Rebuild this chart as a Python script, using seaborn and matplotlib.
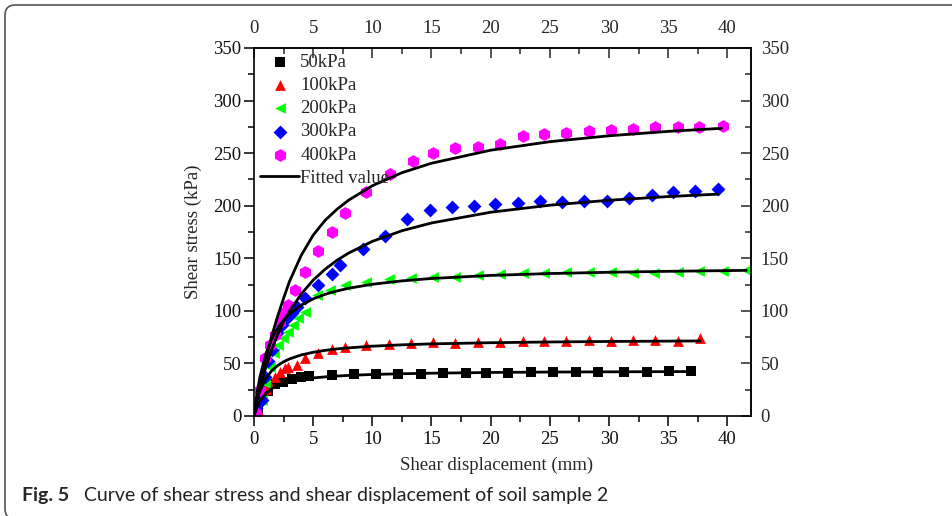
import matplotlib
matplotlib.use("Agg")
import matplotlib.pyplot as plt
from matplotlib.patches import FancyBboxPatch
from matplotlib.ticker import MultipleLocator
import seaborn as sns

sns.set_style("ticks")
plt.rcParams["font.family"] = ["Liberation Serif", "DejaVu Serif"]

# measured points (shear displacement mm, shear stress kPa)
x50 = [0.3, 0.7, 1.2, 1.77, 2.47, 3.18, 3.94, 4.67, 6.56, 8.44, 10.3, 12.2, 14.1,
       16.0, 17.9, 19.6, 21.5, 23.4, 25.3, 27.2, 29.1, 31.3, 33.2, 35.1, 36.9]
y50 = [8, 17, 24, 30.5, 32.6, 34.9, 37.4, 38.1, 39.0, 39.7, 39.7, 40.0, 40.3,
       40.6, 41.2, 41.2, 41.2, 41.6, 42.1, 41.6, 42.1, 42.1, 42.1, 42.8, 43.1]

x100 = [0.3, 0.65, 1.0, 1.3, 1.77, 2.2, 2.6, 2.9, 3.6, 4.3, 5.4, 6.6, 7.7, 9.5,
        11.4, 13.3, 15.1, 17.0, 18.9, 20.8, 22.7, 24.5, 26.4, 28.3, 30.2, 32.0,
        33.9, 35.8, 37.7]
y100 = [6, 18.4, 26, 31.1, 37.4, 42.1, 45.4, 46.9, 48.5, 54.9, 59.7, 63.7, 65.9,
        67.5, 68.2, 69.2, 70.0, 69.2, 70.7, 70.7, 71.6, 71.4, 71.4, 72.3, 71.4,
        72.3, 72.3, 71.4, 73.9]

x200 = [0.2, 0.65, 0.93, 1.35, 1.7, 2.05, 2.47, 2.9, 3.3, 3.7, 4.3, 5.3, 6.4, 7.7,
        9.5, 11.4, 13.3, 15.1, 17.0, 18.9, 20.8, 22.7, 24.5, 26.4, 28.3, 30.2,
        32.0, 33.8, 35.8, 37.6, 39.6, 41.6]
y200 = [5.7, 15.2, 31.1, 46.9, 59.7, 67.6, 73.9, 80.2, 86.6, 93.0, 99.2, 115,
        120, 124.6, 127.8, 130.0, 131.5, 132.0, 132.5, 134.2, 135.1, 135.8, 135.8,
        137.3, 137.3, 137.3, 136.4, 135.8, 137.3, 138.3, 138.3, 138.9]

x300 = [0.2, 0.65, 0.93, 1.2, 1.5, 1.91, 2.34, 2.7, 3.18, 3.6, 4.3, 5.43, 6.56,
        7.26, 9.2, 11.05, 12.9, 14.9, 16.7, 18.6, 20.4, 22.3, 24.2, 26.0, 27.9,
        29.8, 31.7, 33.6, 35.4, 37.3, 39.2]
y300 = [8, 15.2, 37.4, 52, 62.8, 78.7, 86.6, 92, 97.7, 104, 112, 124.2, 135.4,
        143.2, 158.6, 171.3, 187.2, 196, 199.2, 200.2, 201.5, 203, 204.9, 203.4,
        204.9, 204.9, 207.2, 210.3, 212.8, 214.4, 216]

x400 = [0.2, 0.5, 0.93, 1.35, 1.77, 2.2, 2.47, 2.9, 3.5, 4.3, 5.43, 6.56, 7.68,
        9.5, 11.5, 13.4, 15.1, 17.0, 18.9, 20.8, 22.7, 24.5, 26.4, 28.3, 30.2,
        32.0, 33.9, 35.8, 37.6, 39.6]
y400 = [3, 24.7, 54.9, 67.5, 77, 89.7, 97.7, 105.6, 120, 137.3, 157.3, 174.8,
        192.9, 213.4, 230.3, 242.9, 250.5, 254.7, 255.7, 258.8, 266.4, 268.3, 269,
        271.2, 272.1, 272.8, 274.7, 274.7, 275.3, 276.2]

# fitted curves
fx = [0, 0.25, 0.5, 1, 1.5, 2, 2.5, 3, 4, 5, 6, 7, 8, 10, 12.5, 15, 20, 25, 30, 35]
fit50 = [0, 8.6, 14.4, 21.6, 26.0, 28.9, 30.9, 32.5, 34.7, 36.2, 37.2, 38.0,
         38.6, 39.5, 40.2, 40.7, 41.4, 41.8, 42.0, 42.2, 42.3]
fit100 = [0, 14.1, 23.6, 35.7, 43.1, 48.0, 51.6, 54.3, 58.1, 60.6, 62.4, 63.8,
          64.8, 66.4, 67.7, 68.6, 69.7, 70.4, 70.9, 71.2, 71.4]
fit200 = [0, 21.3, 37.1, 58.9, 73.3, 83.5, 91.1, 97.0, 105.5, 111.4, 115.7,
          118.9, 121.5, 125.3, 128.5, 130.8, 133.7, 135.5, 136.7, 137.6, 138.5]
fit300 = [0, 13.7, 25.8, 46.5, 63.4, 77.5, 89.4, 99.6, 116.2, 129.2, 139.5,
          148.0, 155.0, 166.1, 176.2, 183.6, 193.8, 200.5, 205.2, 208.7, 211.0]
fit400 = [0, 16, 30, 54, 76, 95, 112, 128, 153, 172, 186, 196.5, 205.3, 219.0,
          231.4, 240.4, 252.8, 260.9, 266.5, 270.7, 273.6]
fit_end = [36.9, 37.7, 41.6, 39.2, 39.5]

labels = ["50kPa", "100kPa", "200kPa", "300kPa", "400kPa"]
colors = ["#000000", "#ff0000", "#00ff00", "#0000ff", "#ff00ff"]
markers = ["s", "^", "<", "D", "h"]
sizes = [42, 60, 60, 50, 85]

W, H = 953, 516
fig = plt.figure(figsize=(W / 100, H / 100), dpi=100)
ax = fig.add_axes([254 / W, 1 - 416 / H, 497 / W, 368 / H])

xs = [x50, x100, x200, x300, x400]
ys = [y50, y100, y200, y300, y400]
fits = [fit50, fit100, fit200, fit300, fit400]

handles = []
for i in range(5):
    sns.scatterplot(x=xs[i], y=ys[i], ax=ax, marker=markers[i], color=colors[i],
                    s=sizes[i], linewidth=0, zorder=2)
    handles.append(ax.collections[-1])
line = None
for i in range(5):
    sns.lineplot(x=fx + [fit_end[i]], y=fits[i], ax=ax, color="black", lw=2,
                 estimator=None, sort=False, zorder=3)
    line = ax.lines[-1]
handles.append(line)

ax.set_xlim(0, 42)
ax.set_ylim(0, 350)
ax.xaxis.set_major_locator(MultipleLocator(5))
ax.xaxis.set_minor_locator(MultipleLocator(2.5))
ax.yaxis.set_major_locator(MultipleLocator(50))
ax.yaxis.set_minor_locator(MultipleLocator(25))
ax.tick_params(which="both", direction="out", labelsize=13.5, width=1.1,
               color="black", labelcolor="#111111")
ax.tick_params(which="major", length=7)
ax.tick_params(which="minor", length=4)
ax.tick_params(axis="x", pad=4)
ax.tick_params(axis="y", pad=2)
for sp in ax.spines.values():
    sp.set_linewidth(1.2)
    sp.set_color("black")

secx = ax.secondary_xaxis("top")
secx.xaxis.set_major_locator(MultipleLocator(5))
secx.xaxis.set_minor_locator(MultipleLocator(2.5))
secx.tick_params(which="both", direction="in", labelsize=13.5, width=1.1, pad=8)
secx.tick_params(which="major", length=7)
secx.tick_params(which="minor", length=4)
secy = ax.secondary_yaxis("right")
secy.yaxis.set_major_locator(MultipleLocator(50))
secy.yaxis.set_minor_locator(MultipleLocator(25))
secy.tick_params(which="both", direction="in", labelsize=13.5, width=1.1, pad=7)
secy.tick_params(which="major", length=7)
secy.tick_params(which="minor", length=4)
for s in (secx, secy):
    for sp in s.spines.values():
        sp.set_linewidth(1.2)

ax.set_xlabel("Shear displacement (mm)", fontsize=13.5)
ax.set_ylabel("Shear stress (kPa)", fontsize=13.5)
ax.xaxis.set_label_coords(0.488, -0.11)
ax.yaxis.set_label_coords(-0.105, 0.5)

ax.legend(handles, labels + ["Fitted value"], loc="upper left",
          bbox_to_anchor=(6 / 497, 1 - 6 / 368), frameon=False, fontsize=13.5,
          handlelength=2.1, handletextpad=0.05, borderpad=0, borderaxespad=0,
          labelspacing=0.32)

# caption and panel frame
fig.text(22 / W, 1 - 501 / H, "Fig. 5", fontsize=14, fontweight="bold",
         family=["Lato", "DejaVu Sans"], va="baseline")
fig.text(84 / W, 1 - 501 / H,
         "Curve of shear stress and shear displacement of soil sample 2",
         fontsize=14, family=["Lato", "DejaVu Sans"], va="baseline",
         color="#222222")
frame = FancyBboxPatch((5, -3), 1200, 514, boxstyle="round,pad=0,rounding_size=10",
                       transform=None, fill=False, edgecolor="#555555", lw=1.2)
fig.add_artist(frame)

fig.savefig("out.png", dpi=100)
